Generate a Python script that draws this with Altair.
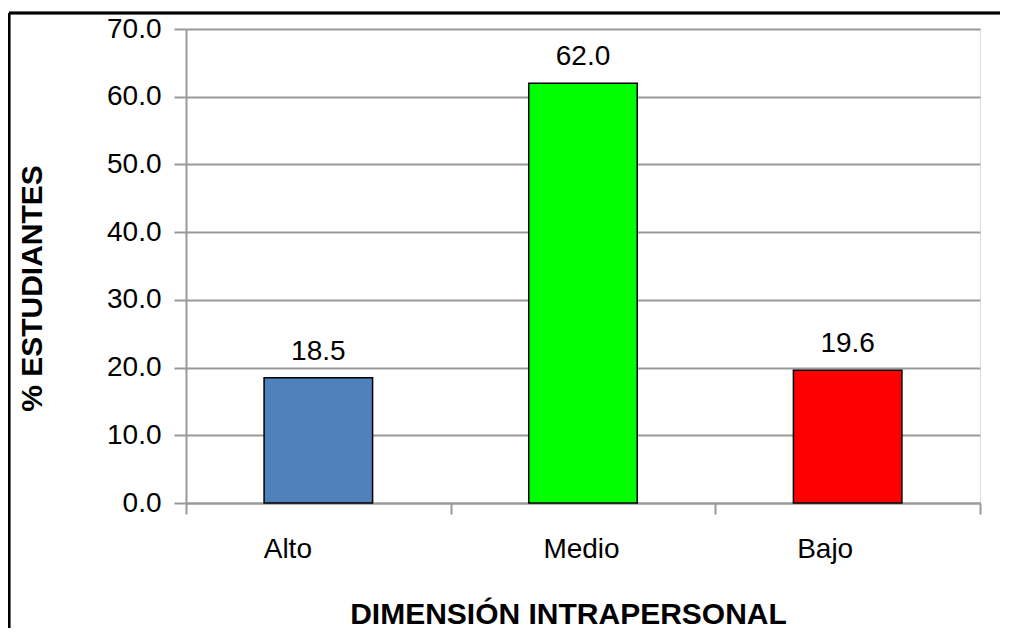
import altair as alt
import pandas as pd

categories = ["Alto", "Medio", "Bajo"]
values = [18.5, 62.0, 19.6]
colors = ["#4F81BD", "#00FF00", "#FF0000"]
y_ticks = [0, 10, 20, 30, 40, 50, 60, 70]

df = pd.DataFrame({"cat": categories, "val": values, "color": colors})

FONT = "Liberation Sans"

x_enc = alt.X(
    "cat:N",
    sort=categories,
    scale=alt.Scale(paddingInner=0, paddingOuter=0),
    axis=alt.Axis(
        title="DIMENSIÓN INTRAPERSONAL",
        titleFont=FONT, titleFontSize=30, titleFontWeight="bold", titleColor="black",
        titleX=382, titleY=120, titleAlign="center", titleBaseline="alphabetic",
        labelFont=FONT, labelFontSize=28, labelColor="black", labelAngle=0,
        labelOffset=alt.ExprRef("datum.value == 'Alto' ? -31 : (datum.value == 'Bajo' ? -23 : -2)"),
        labelPadding=21, tickSize=11, tickBand="extent",
        tickColor="#999999", tickWidth=2,
        domainColor="#999999", domainWidth=2, grid=False,
    ),
)

y_enc = alt.Y(
    "val:Q",
    scale=alt.Scale(domain=[0, 70], nice=False),
    axis=alt.Axis(
        title="% ESTUDIANTES",
        titleFont=FONT, titleFontSize=30, titleFontWeight="bold", titleColor="black",
        titleAngle=270, titleX=-154, titleY=259, titleAlign="center", titleBaseline="middle",
        values=y_ticks, format=".1f",
        labelFont=FONT, labelFontSize=28, labelColor="black", labelPadding=13,
        tickSize=12, tickColor="#999999", tickWidth=2,
        domainColor="#999999", domainWidth=2,
        grid=True, gridColor="#999999", gridWidth=2,
    ),
)

bars = alt.Chart(df).mark_bar(
    width=alt.RelativeBandSize(0.41), stroke="black", strokeWidth=1.5
).encode(
    x=x_enc,
    y=y_enc,
    color=alt.Color("color:N", scale=None),
)

labels = alt.Chart(df).mark_text(
    baseline="alphabetic", dy=-18, font=FONT, fontSize=28, color="black"
).encode(
    x=alt.X("cat:N", sort=categories),
    y="val:Q",
    text=alt.Text("val:Q", format=".1f"),
)

frame_top = alt.Chart(df).mark_rule(color="black", strokeWidth=2.5).encode(
    x=alt.value(-177), x2=alt.value(820), y=alt.value(-16)
)
frame_left = alt.Chart(df).mark_rule(color="black", strokeWidth=2.5).encode(
    x=alt.value(-177), y=alt.value(-16), y2=alt.value(600)
)

chart = alt.layer(bars, labels, frame_top, frame_left).properties(
    width=794, height=474,
    autosize=alt.AutoSizeParams(type="none"),
    padding={"left": 178, "top": 21, "right": 20, "bottom": 125},
).configure_view(stroke=None).configure(background="white")

chart.save("out.html", embed_options={"renderer": "svg", "actions": False})
